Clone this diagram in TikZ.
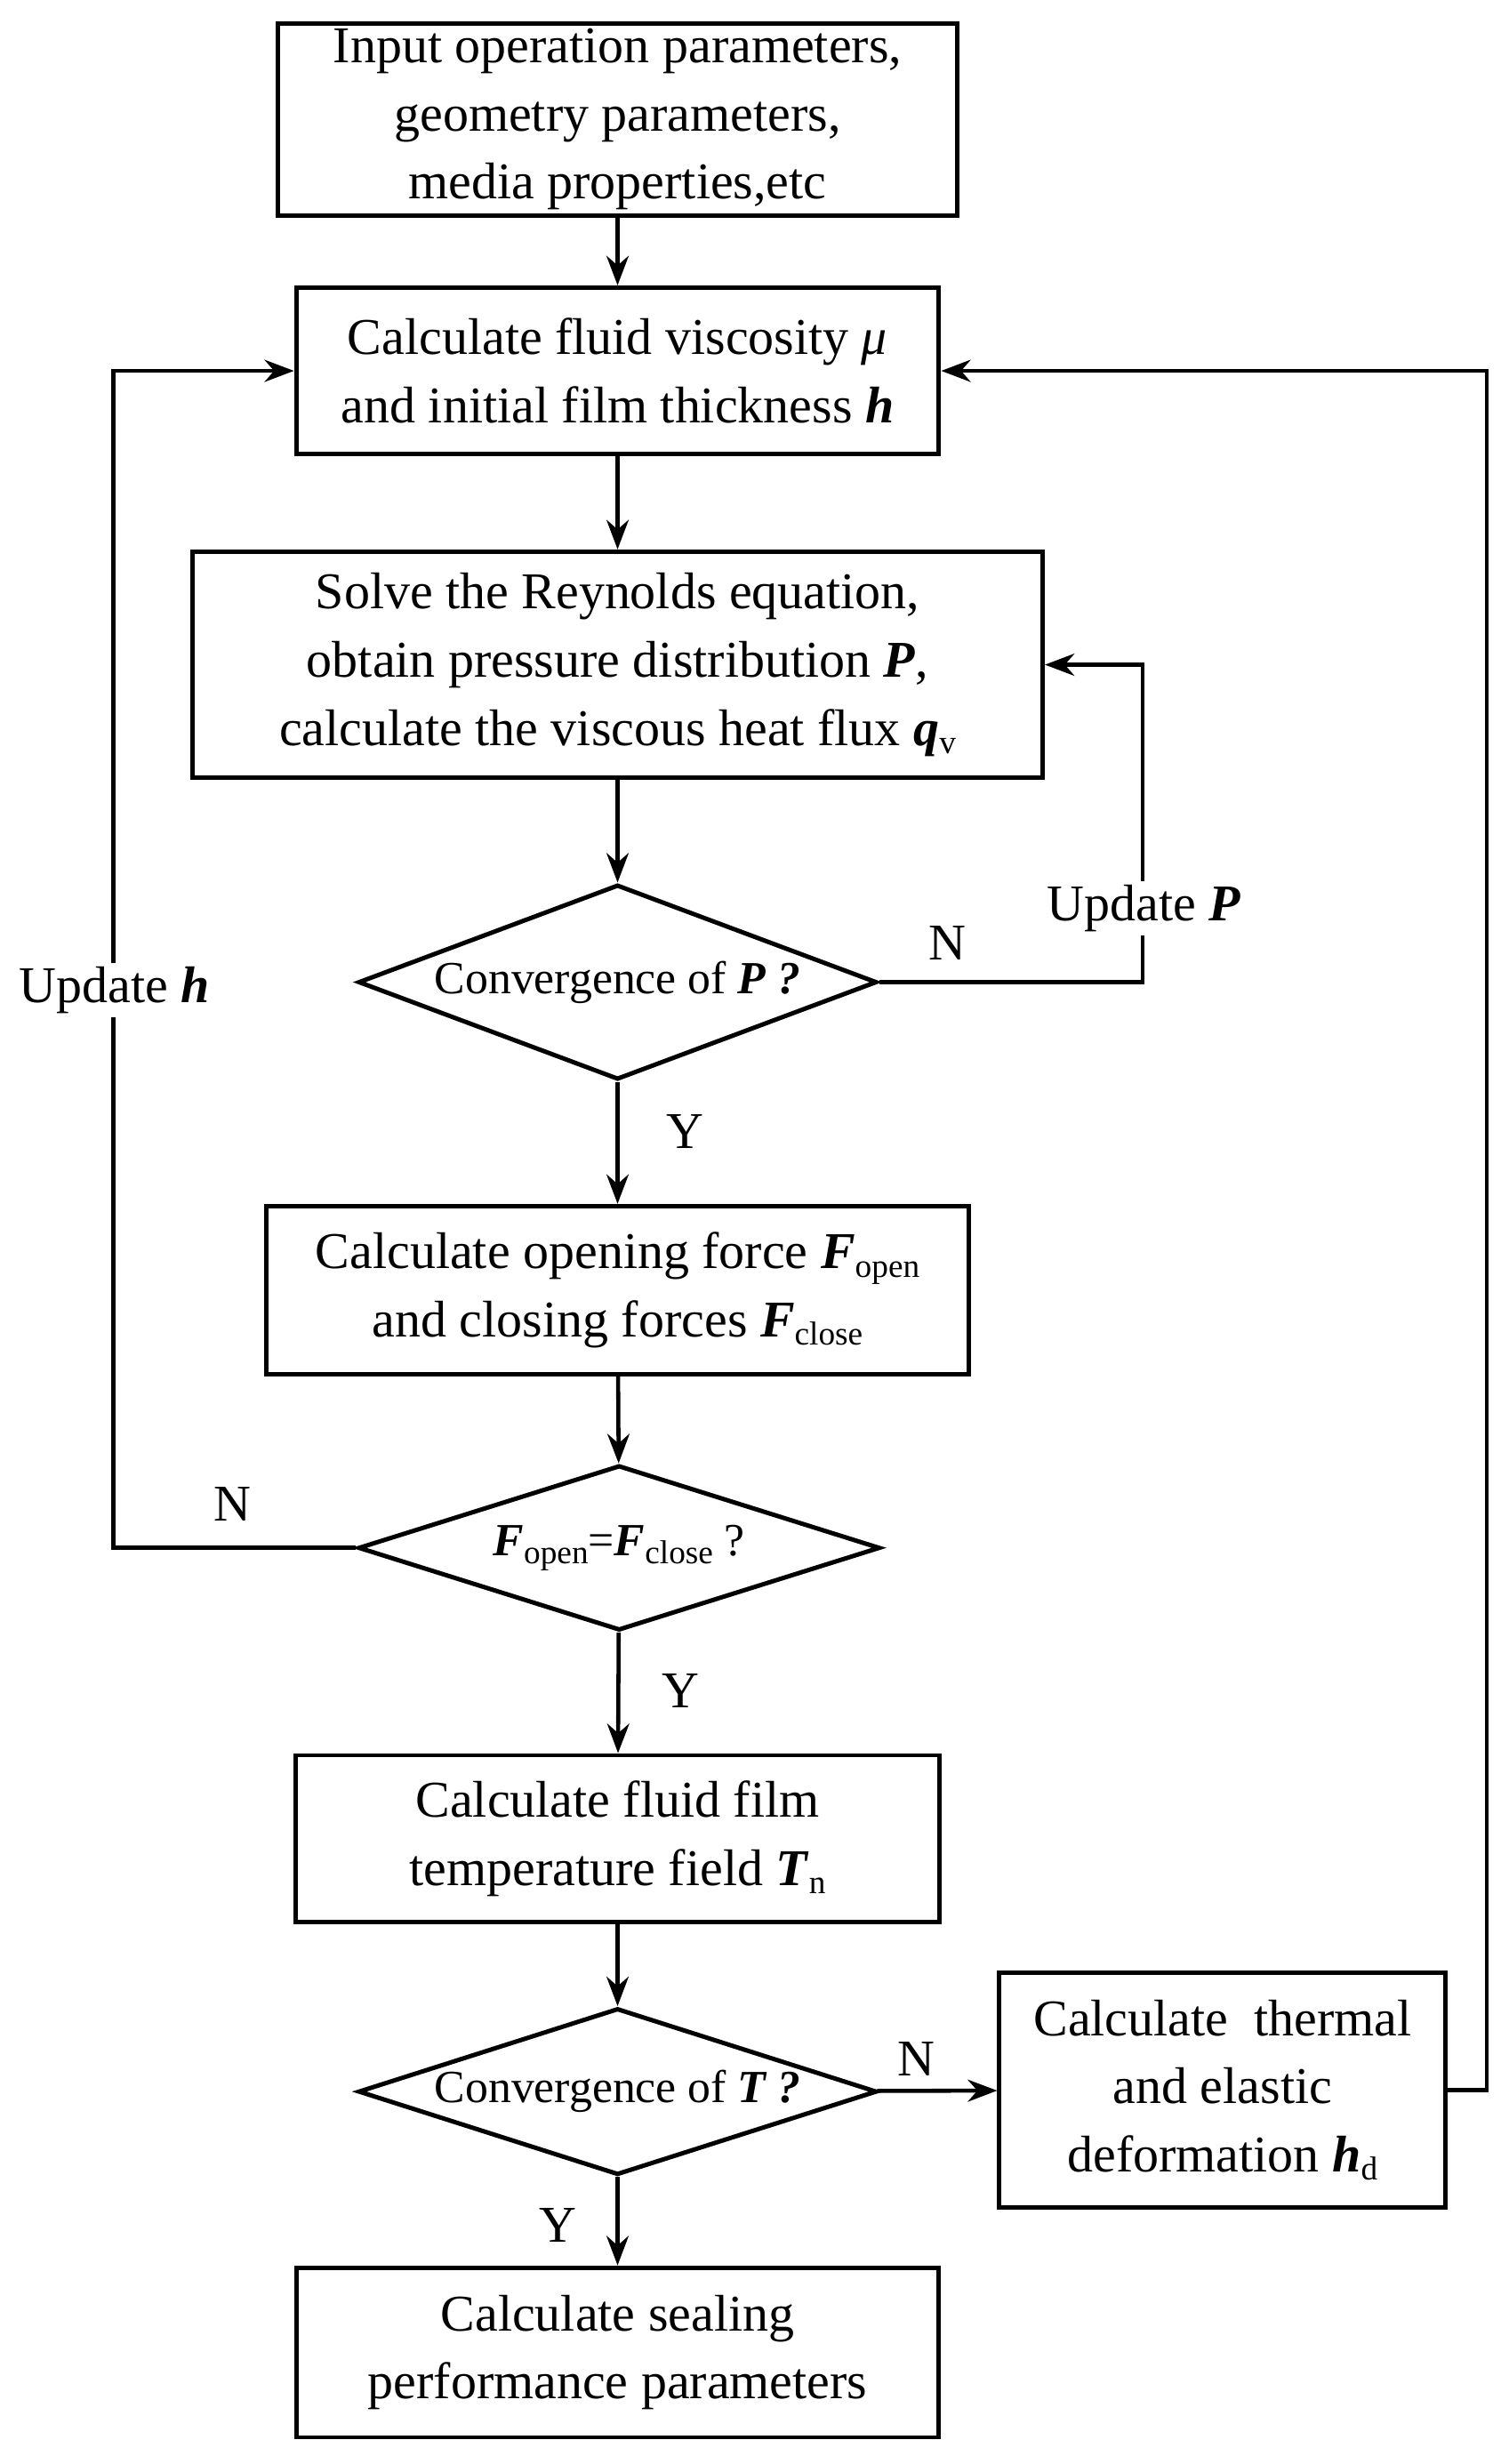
\documentclass[tikz,border=0pt]{standalone}
\usepackage{fontspec}
\setmainfont{Liberation Serif}
\usetikzlibrary{shapes.geometric,arrows.meta}
\newcommand{\lsub}[1]{\raisebox{-0.35ex}{\fontsize{18}{18}\selectfont #1}}
\newcommand{\bi}[1]{\textbf{\textit{#1}}}
\begin{document}
\begin{tikzpicture}[x=0.03cm,y=-0.03cm,
  box/.style={draw,line width=2.4pt,rectangle,align=center,inner sep=0pt,font=\fontsize{28}{37}\selectfont},
  dia/.style={draw,line width=2.4pt,diamond,inner sep=0pt,align=center,font=\fontsize{25}{30}\selectfont},
  arr/.style={line width=2.2pt,-{Stealth[length=16pt,width=12pt]}},
  lbl/.style={font=\fontsize{28}{32}\selectfont}]
\useasboundingbox (0,0) rectangle (960,1568);
\fill[white] (0,0) rectangle (960,1568);
\node[box,minimum width=12.96cm,minimum height=3.66cm] (b1) at (393,76) {Input operation parameters,\\geometry parameters,\\media properties,etc};
\node[box,minimum width=12.27cm,minimum height=3.18cm] (b2) at (393,236) {Calculate fluid viscosity \textit{μ}\\and initial film thickness \bi{h}};
\node[box,minimum width=16.23cm,minimum height=4.32cm] (b3) at (393,423) {Solve the Reynolds equation,\\obtain pressure distribution \bi{P},\\calculate the viscous heat flux \bi{q}\lsub{v}};
\node[dia,aspect=2.66,minimum width=9.9cm,minimum height=3.72cm] (d1) at (393,625) {Convergence of \bi{P ?}};
\node[box,minimum width=13.41cm,minimum height=3.21cm] (b4) at (393,821) {Calculate opening force \bi{F}\lsub{open}\\and closing forces \bi{F}\lsub{close}};
\node[dia,aspect=3.16,minimum width=9.96cm,minimum height=3.15cm] (d2) at (394,985) {\bi{F}\lsub{open}=\bi{F}\lsub{close} ?};
\node[box,minimum width=12.3cm,minimum height=3.18cm] (b5) at (393,1170) {Calculate fluid film\\temperature field \bi{T}\lsub{n}};
\node[dia,aspect=3.11,minimum width=9.9cm,minimum height=3.18cm] (d3) at (393,1331) {Convergence of \bi{T ?}};
\node[box,minimum width=12.27cm,minimum height=3.24cm] (b6) at (393,1497) {Calculate sealing\\performance parameters};
\node[box,minimum width=8.52cm,minimum height=4.47cm] (b7) at (778,1330) {Calculate\ \ thermal\\and elastic\\deformation \bi{h}\lsub{d}};
\coordinate (lh1) at (72,985); \coordinate (lh2) at (72,236);
\coordinate (lp1) at (727,625); \coordinate (lp2) at (727,423);
\coordinate (r1) at (946,1330); \coordinate (r2) at (946,236);
\draw[arr] (b1) -- (b2);
\draw[arr] (b2) -- (b3);
\draw[arr] (b3) -- (d1);
\draw[arr] (d1) -- (b4);
\draw[arr] (b4) -- (d2);
\draw[arr] (d2) -- (b5);
\draw[arr] (b5) -- (d3);
\draw[arr] (d3) -- (b6);
\draw[arr] (d3) -- (b7);
\draw[arr] (d2.west) -- (lh1) -- (lh2) -- (b2.west);
\draw[arr] (d1.east) -- (lp1) -- (lp2) -- (b3.east);
\draw[arr] (b7.east) -- (r1) -- (r2) -- (b2.east);
\node[lbl,fill=white,inner sep=2pt] (t1) at (73,630) {Update \bi{h}};
\node[lbl,fill=white,inner sep=2pt] (t2) at (728,578) {Update \bi{P}};
\node[lbl] (n1) at (603,600) {N};
\node[lbl] (n2) at (148,957) {N};
\node[lbl] (n3) at (583,1310) {N};
\node[lbl] (y1) at (436,720) {Y};
\node[lbl] (y2) at (433,1076) {Y};
\node[lbl] (y3) at (355,1416) {Y};
\end{tikzpicture}
\end{document}
